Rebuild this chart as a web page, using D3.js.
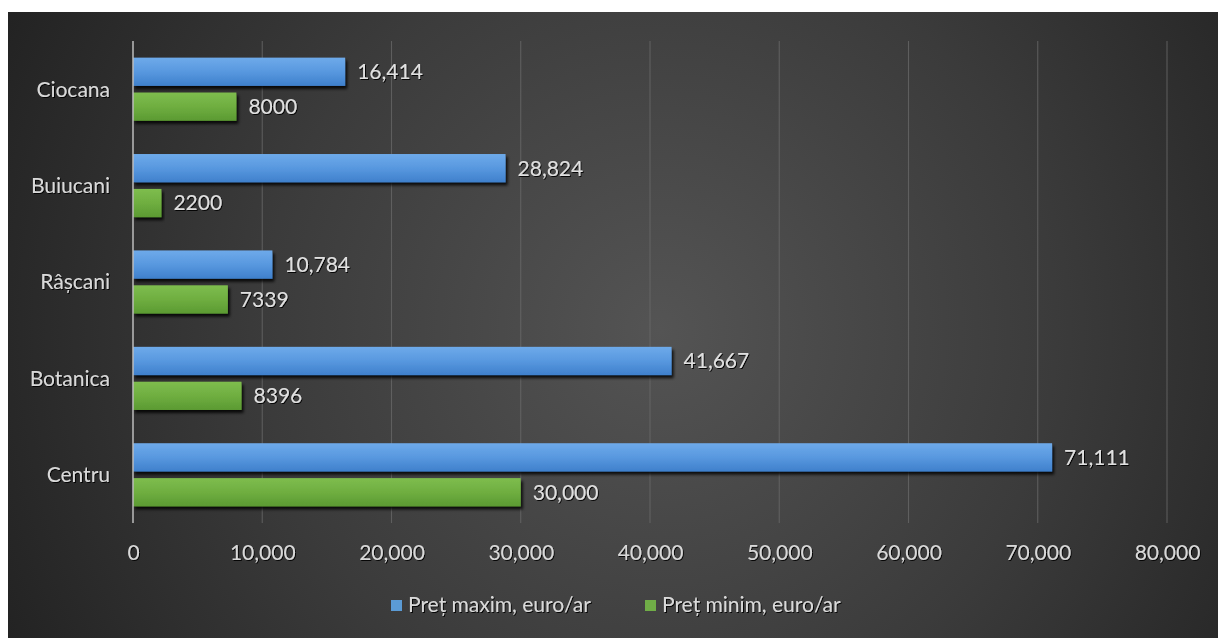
<!DOCTYPE html>
<html><head><meta charset="utf-8">
<script src="https://cdnjs.cloudflare.com/ajax/libs/d3/7.8.5/d3.min.js"></script>
<style>
html,body{margin:0;padding:0;background:#fff;}
svg{display:block;}
</style></head>
<body>
<svg id="chart" width="1218" height="638"></svg>
<script>
const categories = ["Ciocana", "Buiucani", "Râșcani", "Botanica", "Centru"];
const seriesNames = ["Preț maxim, euro/ar", "Preț minim, euro/ar"];
const maxValues = [16414, 28824, 10784, 41667, 71111];
const minValues = [8000, 2200, 7339, 8396, 30000];
const maxLabels = ["16,414", "28,824", "10,784", "41,667", "71,111"];
const minLabels = ["8000", "2200", "7339", "8396", "30,000"];
const xTicks = [0, 10000, 20000, 30000, 40000, 50000, 60000, 70000, 80000];

(function () {
const svg = d3.select("#chart");
const W = 1218, H = 638;
const FONT = "Lato, 'Open Sans', sans-serif";
const FS = 21;
const defs = svg.append("defs");

const bg = defs.append("radialGradient").attr("id", "bg")
  .attr("gradientUnits", "userSpaceOnUse")
  .attr("cx", 660).attr("cy", 330).attr("r", 720);
bg.append("stop").attr("offset", "0").attr("stop-color", "#545454");
bg.append("stop").attr("offset", "0.55").attr("stop-color", "#3b3b3b");
bg.append("stop").attr("offset", "1").attr("stop-color", "#232323");

function barGrad(id, c1, c2, c3) {
  const g = defs.append("linearGradient").attr("id", id).attr("x1", 0).attr("y1", 0).attr("x2", 0).attr("y2", 1);
  g.append("stop").attr("offset", "0").attr("stop-color", c1);
  g.append("stop").attr("offset", "0.5").attr("stop-color", c2);
  g.append("stop").attr("offset", "1").attr("stop-color", c3);
}
barGrad("gBlue", "#6eaaea", "#5898df", "#3f80cc");
barGrad("gGreen", "#7ebd4e", "#6fae40", "#5b9a32");

const sh = defs.append("filter").attr("id", "shadow").attr("x", "-5%").attr("y", "-30%").attr("width", "115%").attr("height", "180%");
sh.append("feDropShadow").attr("dx", 2).attr("dy", 3).attr("stdDeviation", 1.5).attr("flood-color", "#000").attr("flood-opacity", 0.85);

const tsh = defs.append("filter").attr("id", "tshadow").attr("x", "-10%").attr("y", "-20%").attr("width", "130%").attr("height", "150%");
tsh.append("feDropShadow").attr("dx", 1).attr("dy", 1).attr("stdDeviation", 0.6).attr("flood-color", "#000").attr("flood-opacity", 0.9);

svg.append("rect").attr("x", 8).attr("y", 12).attr("width", W - 8).attr("height", H - 12).attr("fill", "url(#bg)");

const pLeft = 133, pRight = 1167, pTop = 41, pBottom = 523;
const x = d3.scaleLinear().domain([0, 80000]).range([pLeft, pRight]);
const y = d3.scaleBand().domain(categories).range([pTop, pBottom]).paddingInner(0.345).paddingOuter(0.1725);
const sub = d3.scaleBand().domain(seriesNames).range([0, y.bandwidth()]).paddingInner(0.19);

const grid = svg.append("g");
grid.selectAll("line").data(xTicks.slice(1)).join("line")
  .attr("x1", d => x(d)).attr("x2", d => x(d)).attr("y1", pTop).attr("y2", pBottom)
  .attr("stroke", "#6a6a6a").attr("stroke-width", 1.1).attr("stroke-opacity", 0.75);

const series = [
  {name: seriesNames[0], vals: maxValues, labels: maxLabels, fill: "url(#gBlue)"},
  {name: seriesNames[1], vals: minValues, labels: minLabels, fill: "url(#gGreen)"}
];
const bars = svg.append("g");
series.forEach(s => {
  bars.selectAll(null).data(categories).join("rect")
    .attr("x", x(0))
    .attr("y", d => y(d) + sub(s.name))
    .attr("width", (d, i) => x(s.vals[i]) - x(0))
    .attr("height", sub.bandwidth())
    .attr("fill", s.fill)
    .attr("filter", "url(#shadow)");
});
series.forEach(s => {
  svg.append("g").selectAll("text").data(categories).join("text")
    .attr("x", (d, i) => x(s.vals[i]) + 12)
    .attr("y", d => y(d) + sub(s.name) + sub.bandwidth() / 2)
    .attr("dy", "0.35em")
    .attr("fill", "#e0e0e0").attr("font-family", FONT).attr("font-size", FS)
    .attr("filter", "url(#tshadow)")
    .text((d, i) => s.labels[i]);
});

svg.append("line").attr("x1", x(0)).attr("x2", x(0)).attr("y1", pTop).attr("y2", pBottom)
  .attr("stroke", "#bdbdbd").attr("stroke-width", 1.5);

const xAxis = d3.axisBottom(x).tickValues(xTicks).tickSize(0).tickPadding(0).tickFormat(d3.format(","));
const xg = svg.append("g").attr("transform", `translate(0,${pBottom + 30})`).call(xAxis);
xg.select(".domain").remove();
xg.selectAll("text").attr("fill", "#d9d9d9").attr("font-family", FONT).attr("font-size", FS)
  .attr("dy", "0.35em").attr("y", 0).attr("filter", "url(#tshadow)");

const yAxis = d3.axisLeft(y).tickSize(0).tickPadding(0);
const yg = svg.append("g").attr("transform", `translate(${pLeft - 23},0)`).call(yAxis);
yg.select(".domain").remove();
yg.selectAll("text").attr("fill", "#d9d9d9").attr("font-family", FONT).attr("font-size", FS)
  .attr("dy", "0.35em").attr("filter", "url(#tshadow)");

const legend = svg.append("g").attr("transform", "translate(0,605)");
const legendItems = [
  {name: seriesNames[0], color: "#5b9bd5", x: 391},
  {name: seriesNames[1], color: "#70ad47", x: 645}
];
legendItems.forEach(it => {
  legend.append("rect").attr("x", it.x).attr("y", -5).attr("width", 11).attr("height", 11).attr("fill", it.color);
  legend.append("text").attr("x", it.x + 17).attr("y", 0).attr("dy", "0.35em")
    .attr("fill", "#d9d9d9").attr("font-family", FONT).attr("font-size", FS)
    .attr("filter", "url(#tshadow)").text(it.name);
});
})();
</script>
</body></html>
